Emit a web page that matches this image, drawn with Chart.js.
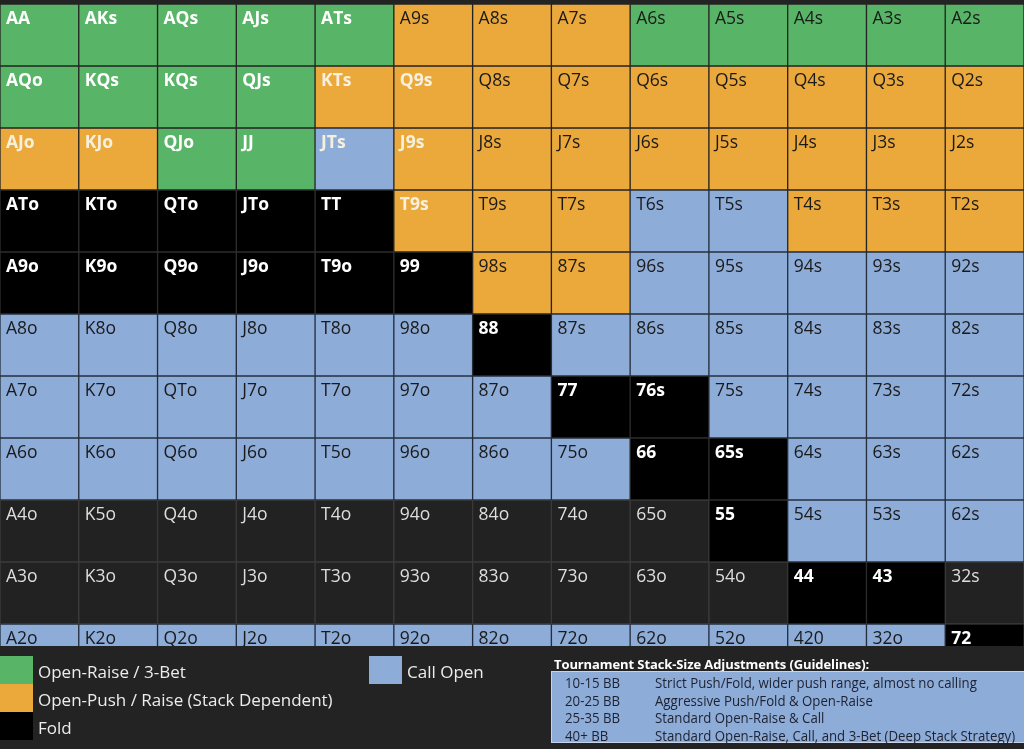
<!DOCTYPE html>
<html>
<head>
<meta charset="utf-8">
<script src="https://cdn.jsdelivr.net/npm/chart.js@4/dist/chart.umd.min.js"></script>
<style>
  html, body { margin: 0; padding: 0; background: #232323; }
  #wrap { position: relative; width: 1024px; height: 749px; overflow: hidden; font-family: "Open Sans", sans-serif; }
  #grid { position: absolute; left: 0; top: 0; }
  .sw { position: absolute; }
  .lg { position: absolute; color: #ececec; font-size: 17px; line-height: 17px; white-space: nowrap; }
  #boxTitle { position: absolute; left: 554px; top: 655px; color: #ffffff; font-weight: bold; font-size: 13px; letter-spacing: -0.1px; white-space: nowrap; }
  #box { position: absolute; left: 551px; top: 671px; width: 480px; height: 72px; background: #8eacd8; border: 1px solid #c6d3ea; box-sizing: border-box; }
  .bx { position: absolute; color: #1d2130; font-size: 14px; line-height: 14px; white-space: nowrap; transform-origin: 0 0; }
</style>
</head>
<body>
<div id="wrap">
  <canvas id="grid" width="1024" height="749"></canvas>
  <div id="legend"></div>
  <div id="boxTitle">Tournament Stack-Size Adjustments (Guidelines):</div>
  <div id="box"></div>
</div>
<script>
document.addEventListener('DOMContentLoaded', function() {
  // Column ranks (one column per rank)
  const ranks = ['A', 'K', 'Q', 'J', 'T', '9', '8', '7', '6', '5', '4', '3', '2'];

  // Hand labels, row by row, as printed on the chart
  const hands = [
    ['AA', 'AKs', 'AQs', 'AJs', 'ATs', 'A9s', 'A8s', 'A7s', 'A6s', 'A5s', 'A4s', 'A3s', 'A2s'],
    ['AQo', 'KQs', 'KQs', 'QJs', 'KTs', 'Q9s', 'Q8s', 'Q7s', 'Q6s', 'Q5s', 'Q4s', 'Q3s', 'Q2s'],
    ['AJo', 'KJo', 'QJo', 'JJ', 'JTs', 'J9s', 'J8s', 'J7s', 'J6s', 'J5s', 'J4s', 'J3s', 'J2s'],
    ['ATo', 'KTo', 'QTo', 'JTo', 'TT', 'T9s', 'T9s', 'T7s', 'T6s', 'T5s', 'T4s', 'T3s', 'T2s'],
    ['A9o', 'K9o', 'Q9o', 'J9o', 'T9o', '99', '98s', '87s', '96s', '95s', '94s', '93s', '92s'],
    ['A8o', 'K8o', 'Q8o', 'J8o', 'T8o', '98o', '88', '87s', '86s', '85s', '84s', '83s', '82s'],
    ['A7o', 'K7o', 'QTo', 'J7o', 'T7o', '97o', '87o', '77', '76s', '75s', '74s', '73s', '72s'],
    ['A6o', 'K6o', 'Q6o', 'J6o', 'T5o', '96o', '86o', '75o', '66', '65s', '64s', '63s', '62s'],
    ['A4o', 'K5o', 'Q4o', 'J4o', 'T4o', '94o', '84o', '74o', '65o', '55', '54s', '53s', '62s'],
    ['A3o', 'K3o', 'Q3o', 'J3o', 'T3o', '93o', '83o', '73o', '63o', '54o', '44', '43', '32s'],
    ['A2o', 'K2o', 'Q2o', 'J2o', 'T2o', '92o', '82o', '72o', '62o', '52o', '420', '32o', '72']
  ];

  // Action per cell: G raise/3-bet, O push/raise, B call, K fold, D unmarked
  const actions = [
    'GGGGGOOOGGGGG',
    'GGGGOOOOOOOOO',
    'OOGGBOOOOOOOO',
    'KKKKKOOOBBOOO',
    'KKKKKKOOBBBBB',
    'BBBBBBKBBBBBB',
    'BBBBBBBKKBBBB',
    'BBBBBBBBKKBBB',
    'DDDDDDDDDKBBB',
    'DDDDDDDDDDKKD',
    'BBBBBBBBBBBBK'
  ];

  // Cells whose label is printed light on a light fill
  const lightLabels = ['1,4', '1,5', '2,0', '2,1', '2,4', '2,5', '3,5'];

  const fills = { G: '#58b466', O: '#eba83b', B: '#8eacd8', K: '#000000', D: '#222222' };
  const edges = { G: '#252525', O: '#252525', B: '#263040', K: '#2e2e2e', D: '#3c3c3c' };

  const legendItems = [
    { label: 'Open-Raise / 3-Bet', code: 'G', x: 0, y: 656 },
    { label: 'Open-Push / Raise (Stack Dependent)', code: 'O', x: 0, y: 684 },
    { label: 'Fold', code: 'K', x: 0, y: 712 },
    { label: 'Call Open', code: 'B', x: 369, y: 656 }
  ];

  const stackSizes = ['10-15 BB', '20-25 BB', '25-35 BB', '40+ BB'];
  const stackNotes = [
    'Strict Push/Fold, wider push range, almost no calling',
    'Aggressive Push/Fold & Open-Raise',
    'Standard Open-Raise & Call',
    'Standard Open-Raise, Call, and 3-Bet (Deep Stack Strategy)'
  ];

  // One floating-bar dataset per row
  const datasets = hands.map((row, r) => ({
    label: 'row ' + r,
    data: ranks.map(() => [r, r + 1]),
    backgroundColor: actions[r].split('').map(a => fills[a]),
    borderColor: actions[r].split('').map(a => edges[a]),
    borderWidth: 1,
    borderSkipped: false,
    barPercentage: 1,
    categoryPercentage: 1,
    grouped: false
  }));

  const cellLabels = {
    id: 'cellLabels',
    afterDatasetsDraw(chart) {
      const ctx = chart.ctx;
      const xs = chart.scales.x, ys = chart.scales.y;
      const half = (xs.getPixelForValue(1) - xs.getPixelForValue(0)) / 2;
      const area = chart.chartArea;
      ctx.save();
      ctx.beginPath();
      ctx.rect(area.left, area.top, area.right - area.left, area.bottom - area.top);
      ctx.clip();
      ctx.textBaseline = 'alphabetic';
      hands.forEach((row, r) => {
        row.forEach((hand, c) => {
          const a = actions[r][c];
          let font = '17.5px "Open Sans"', color = '#1a1a1a';
          if ((a === 'G' && c < 5) || a === 'K') { font = 'bold 17.5px "Open Sans"'; color = '#ffffff'; }
          if (a === 'D') { color = '#dedede'; }
          if (lightLabels.includes(r + ',' + c)) { font = 'bold 17.5px "Open Sans"'; color = '#f6f1de'; }
          ctx.font = font;
          ctx.fillStyle = color;
          ctx.fillText(hand, xs.getPixelForValue(c) - half + 6, ys.getPixelForValue(r) + 20);
        });
      });
      ctx.restore();
    }
  };

  new Chart(document.getElementById('grid').getContext('2d'), {
    type: 'bar',
    data: { labels: ranks, datasets: datasets },
    options: {
      responsive: false,
      animation: false,
      layout: { padding: { top: 4, bottom: 103, left: 0, right: 0 } },
      plugins: { legend: { display: false }, tooltip: { enabled: false } },
      scales: {
        x: { display: false },
        y: { display: false, reverse: true, min: 0, max: 10.355 }
      }
    },
    plugins: [cellLabels]
  });

  // Legend
  const legend = document.getElementById('legend');
  legendItems.forEach(item => {
    const sw = document.createElement('div');
    sw.className = 'sw';
    sw.style.cssText = `left:${item.x}px;top:${item.y}px;width:33px;height:28px;background:${fills[item.code]};`;
    legend.appendChild(sw);
    const t = document.createElement('div');
    t.className = 'lg';
    t.style.left = (item.x + 38) + 'px';
    t.style.top = (item.y + 7) + 'px';
    t.textContent = item.label;
    legend.appendChild(t);
  });

  // Stack-size table
  const box = document.getElementById('box');
  const cells = [];
  stackSizes.forEach((s, i) => {
    const a = document.createElement('div');
    a.className = 'bx';
    a.style.left = '13px';
    a.style.top = (4 + i * 17.7) + 'px';
    a.textContent = s;
    box.appendChild(a);
    const b = document.createElement('div');
    b.className = 'bx';
    b.style.left = '103px';
    b.style.top = (4 + i * 17.7) + 'px';
    b.textContent = stackNotes[i];
    box.appendChild(b);
    cells.push(a, b);
  });
  // squeeze the text so the longest note fits the box like the original
  const longest = Math.max(...cells.map(el => el.scrollWidth));
  const k = Math.min(1, 360 / longest);
  cells.forEach(el => { el.style.transform = `scaleX(${k})`; });
});
</script>
</body>
</html>
